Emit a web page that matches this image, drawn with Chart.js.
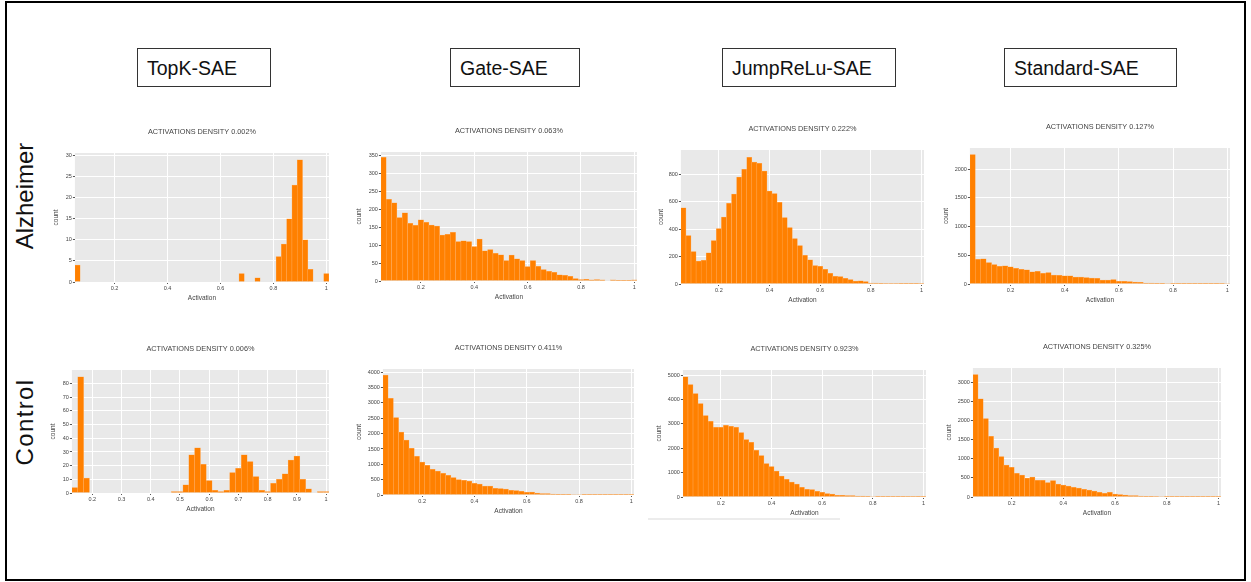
<!DOCTYPE html>
<html>
<head>
<meta charset="utf-8">
<script src="https://cdn.jsdelivr.net/npm/chart.js@4.4.1/dist/chart.umd.min.js"></script>
<style>
html,body{margin:0;padding:0;background:#fff;}
body{width:1251px;height:582px;position:relative;overflow:hidden;font-family:"Liberation Sans",Arial,sans-serif;}
.frame{position:absolute;left:5px;top:1px;width:1241px;height:580px;border:2px solid #000;box-sizing:border-box;}
.head{position:absolute;top:48px;height:39px;border:1px solid #333;box-sizing:border-box;}
.head span{position:absolute;left:9px;top:9px;line-height:20px;font-size:19.5px;color:#111;white-space:nowrap;}
.row{position:absolute;width:200px;height:24px;line-height:24px;font-size:24px;text-align:center;transform:rotate(-90deg);color:#111;white-space:nowrap;}
.smudge{position:absolute;left:648px;top:518px;width:192px;height:2px;background:#ececec;}
canvas{position:absolute;}
</style>
</head>
<body>
<div class="frame"></div>
<div class="smudge"></div>
<script>
// ---- data ----
const methods = ['TopK-SAE', 'Gate-SAE', 'JumpReLu-SAE', 'Standard-SAE']
const groups = ['Alzheimer', 'Control']
const densities = ['0.002%', '0.063%', '0.222%', '0.127%', '0.006%', '0.411%', '0.923%', '0.325%']

const binWidth = 0.02
const binStarts = [0.05, 0.05, 0.05, 0.05, 0.13, 0.05, 0.05, 0.05]

// Alzheimer row
const topkAlz = [4, 0,0,0,0,0,0,0,0,0,0, 0,0,0,0,0,0,0,0,0,0, 0,0,0,0,0,0,0,0,0,0,
  2,0,0,1,0,0,0,6,9,15,23,29,10,3,0,0,2]
const gateAlz = [345,228,218,177,190,161,155,171,164,156,153,128,130,136,110,112,110,96,117,84,
  88,77,73,57,72,62,57,40,57,41,32,27,24,17,16,13,7,4,5,3,4,3,0,3,2,2,2,3]
const jumpAlz = [556,354,237,168,173,227,317,405,488,588,656,780,837,924,890,880,824,678,659,595,
  485,412,332,280,210,176,134,129,107,78,56,54,41,32,22,24,17,7,7,5,4,3,3,2,2,1,1,3]
const stdAlz = [2250,431,437,373,338,309,315,297,274,257,245,210,222,187,198,157,152,140,140,122,
  122,111,105,99,70,70,76,47,47,41,35,29,17,17,12,12,8,5,4,4,3,3,3,2,2,2,1,8]

// Control row
const topkCtrl = [4,85,11, 0,0,0,0,0,0,0,0,0,0,0,0,0,0,
  1,1,6,28,33,21,9,2,1,2,15,18,28,23,12,2,1,7,10,14,24,27,10,3,0,1,1]
const gateCtrl = [3913,3152,2522,2054,1793,1522,1261,1076,967,837,783,707,641,565,500,478,457,380,359,293,
  293,217,207,196,152,141,120,87,98,65,43,43,33,22,22,22,15,15,12,12,10,8,8,8,5,5,5,10]
const jumpCtrl = [4932,4616,4247,3836,3342,3110,2863,2863,2945,2904,2863,2644,2356,2247,1918,1699,1370,1247,1068,863,
  726,616,534,397,315,301,233,192,137,123,68,68,55,55,41,35,25,20,15,12,10,8,5,5,3,3,5,8]
const stdCtrl = [3210,2572,2056,1592,1286,1059,840,779,621,577,499,525,437,437,376,429,341,315,289,254,
  236,201,184,157,122,96,122,79,61,52,35,35,26,20,20,15,12,20,8,5,5,5,3,3,3,3,3,5]

const counts = [topkAlz, gateAlz, jumpAlz, stdAlz, topkCtrl, gateCtrl, jumpCtrl, stdCtrl]

// axis ticks / ranges
const xTicksFifths = [0.2, 0.4, 0.6, 0.8, 1]
const xTicksTenths = [0.2, 0.3, 0.4, 0.5, 0.6, 0.7, 0.8, 0.9, 1]
const xTicks = [xTicksFifths, xTicksFifths, xTicksFifths, xTicksFifths, xTicksTenths, xTicksFifths, xTicksFifths, xTicksFifths]
const yTicks = [
  [0,5,10,15,20,25,30],
  [0,50,100,150,200,250,300,350],
  [0,200,400,600,800],
  [0,500,1000,1500,2000],
  [0,10,20,30,40,50,60,70,80],
  [0,500,1000,1500,2000,2500,3000,3500,4000],
  [0,1000,2000,3000,4000,5000],
  [0,500,1000,1500,2000,2500,3000]
]
const yMax = [30.6, 360, 978, 2367, 90, 4109, 5219, 3385]

// ---- page layout (plot rect: left, top, right, bottom, gap to "count") ----
const headBoxes = [[137,134],[450,130],[722,174],[1004,173]]
const rowCenters = [195.5, 421.5]
const rowSpacing = [0, 1.4]
const panelBox = [
  [75,153,329,282,19], [381,152,637,281,22], [681,150,924,284,20], [970,148,1230,284,24],
  [72,370,329,493,19], [383,369,634,495,24], [683,370,926,497,24], [973,368,1221,497,24]
]

Chart.defaults.font.family = '"Liberation Sans", Arial, sans-serif'

methods.forEach((m, i) => {
  const d = document.createElement('div')
  d.className = 'head'
  d.style.left = headBoxes[i][0] + 'px'
  d.style.width = headBoxes[i][1] + 'px'
  d.innerHTML = `<span>${m}</span>`
  document.body.appendChild(d)
})

groups.forEach((g, i) => {
  const d = document.createElement('div')
  d.className = 'row'
  d.style.left = (24.7 - 100) + 'px'
  d.style.top = (rowCenters[i] - 12) + 'px'
  d.style.letterSpacing = rowSpacing[i] + 'px'
  d.textContent = g
  document.body.appendChild(d)
})

const plotBg = {
  id: 'plotBg',
  beforeDraw(chart) {
    const { ctx, chartArea: a } = chart
    ctx.save()
    ctx.fillStyle = '#e9e9e9'
    ctx.fillRect(a.left, a.top, a.width, a.height)
    ctx.restore()
  }
}

const padR = 8
counts.forEach((cnt, i) => {
  const [L, T, R, B, yPad] = panelBox[i]
  const yW = yPad + 3.9
  const cv = document.createElement('canvas')
  cv.width = Math.round(yW + (R - L) + padR)
  cv.height = 30 + (B - T) + 20
  cv.style.left = (L - yW) + 'px'
  cv.style.top = (T - 30) + 'px'
  document.body.appendChild(cv)

  const start = binStarts[i]
  new Chart(cv, {
    type: 'bar',
    data: {
      datasets: [{
        data: cnt.map((c, k) => ({ x: start + (k + 0.5) * binWidth, y: c })),
        backgroundColor: '#ff8000',
        borderColor: '#ffae62',
        borderWidth: 0.5,
        barPercentage: 1,
        categoryPercentage: 1
      }]
    },
    options: {
      responsive: false,
      animation: false,
      devicePixelRatio: 1,
      layout: { padding: { left: 0, top: 0, right: padR, bottom: 0 } },
      plugins: {
        legend: { display: false },
        tooltip: { enabled: false },
        title: {
          display: true,
          text: 'ACTIVATIONS DENSITY ' + densities[i],
          fullSize: false,
          color: '#444',
          font: { size: 7.3, lineHeight: 1.2, weight: 'normal' },
          padding: { top: 4.6, bottom: 16.6 }
        }
      },
      scales: {
        x: {
          type: 'linear',
          min: start,
          max: start + cnt.length * binWidth,
          offset: false,
          afterBuildTicks: s => { s.ticks = xTicks[i].map(v => ({ value: v })) },
          afterFit: s => { s.height = 20; s.paddingLeft = 0; s.paddingRight = 0 },
          grid: { offset: false, color: '#fff', lineWidth: 1, tickColor: '#555', tickLength: 2 },
          border: { display: false },
          ticks: { font: { size: 5.5 }, color: '#444', padding: 1, maxRotation: 0, autoSkip: false,
            callback: v => String(+v.toFixed(2)) },
          title: { display: true, text: 'Activation', color: '#444', font: { size: 6.5, lineHeight: 1.2 }, padding: 0 }
        },
        y: {
          min: 0,
          max: yMax[i],
          afterBuildTicks: s => { s.ticks = yTicks[i].map(v => ({ value: v })) },
          afterFit: s => { s.width = yW; s.paddingTop = 0; s.paddingBottom = 0 },
          grid: { color: '#fff', lineWidth: 1, tickColor: '#555', tickLength: 2 },
          border: { display: false },
          ticks: { font: { size: 5.5 }, color: '#444', padding: 1, autoSkip: false,
            callback: v => String(v) },
          title: { display: true, text: 'count', color: '#444', font: { size: 6.5, lineHeight: 1.2 }, padding: 0 }
        }
      }
    },
    plugins: [plotBg]
  })
})
</script>
</body>
</html>
